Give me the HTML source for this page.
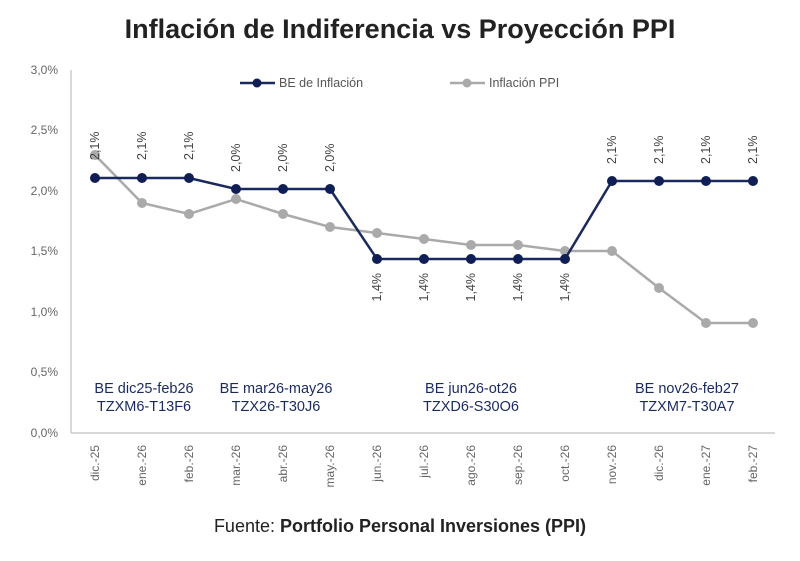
<!DOCTYPE html><html><head><style>body{margin:0;background:#fff}</style></head><body>
<svg width="800" height="556" xmlns="http://www.w3.org/2000/svg" font-family="Liberation Sans, sans-serif">
<text x="400" y="38" text-anchor="middle" font-size="27" font-weight="bold" fill="#222">Inflación de Indiferencia vs Proyección PPI</text>
<g fill="#666" font-size="12" text-anchor="end">
<text x="58" y="74">3,0%</text><text x="58" y="134">2,5%</text><text x="58" y="195">2,0%</text><text x="58" y="255">1,5%</text><text x="58" y="316">1,0%</text><text x="58" y="376">0,5%</text><text x="58" y="437">0,0%</text>
</g>
<line x1="71" y1="70" x2="71" y2="433" stroke="#ccc" stroke-width="1.5"/>
<line x1="71" y1="433" x2="775" y2="433" stroke="#ccc" stroke-width="1.5"/>
<g stroke="#aaa" stroke-width="2.5" fill="none"><polyline points="95,155 142,203 189,214 236,199 283,214 330,227 377,233 424,239 471,245 518,245 565,251 612,251 659,288 706,323 753,323"/></g>
<g fill="#aaa"><circle cx="95" cy="155" r="5"/><circle cx="142" cy="203" r="5"/><circle cx="189" cy="214" r="5"/><circle cx="236" cy="199" r="5"/><circle cx="283" cy="214" r="5"/><circle cx="330" cy="227" r="5"/><circle cx="377" cy="233" r="5"/><circle cx="424" cy="239" r="5"/><circle cx="471" cy="245" r="5"/><circle cx="518" cy="245" r="5"/><circle cx="565" cy="251" r="5"/><circle cx="612" cy="251" r="5"/><circle cx="659" cy="288" r="5"/><circle cx="706" cy="323" r="5"/><circle cx="753" cy="323" r="5"/></g>
<polyline points="95,178 142,178 189,178 236,189 283,189 330,189 377,259 424,259 471,259 518,259 565,259 612,181 659,181 706,181 753,181" stroke="#1a2a5e" stroke-width="2.5" fill="none"/>
<g fill="#0f1f55"><circle cx="95" cy="178" r="5"/><circle cx="142" cy="178" r="5"/><circle cx="189" cy="178" r="5"/><circle cx="236" cy="189" r="5"/><circle cx="283" cy="189" r="5"/><circle cx="330" cy="189" r="5"/><circle cx="377" cy="259" r="5"/><circle cx="424" cy="259" r="5"/><circle cx="471" cy="259" r="5"/><circle cx="518" cy="259" r="5"/><circle cx="565" cy="259" r="5"/><circle cx="612" cy="181" r="5"/><circle cx="659" cy="181" r="5"/><circle cx="706" cy="181" r="5"/><circle cx="753" cy="181" r="5"/></g>
<g fill="#444" font-size="12.5">
<text transform="translate(99,160) rotate(-90)">2,1%</text><text transform="translate(146,160) rotate(-90)">2,1%</text><text transform="translate(193,160) rotate(-90)">2,1%</text>
<text transform="translate(240,172) rotate(-90)">2,0%</text><text transform="translate(287,172) rotate(-90)">2,0%</text><text transform="translate(334,172) rotate(-90)">2,0%</text>
<g text-anchor="end"><text transform="translate(381,273) rotate(-90)">1,4%</text><text transform="translate(428,273) rotate(-90)">1,4%</text><text transform="translate(475,273) rotate(-90)">1,4%</text><text transform="translate(522,273) rotate(-90)">1,4%</text><text transform="translate(569,273) rotate(-90)">1,4%</text></g>
<text transform="translate(616,164) rotate(-90)">2,1%</text><text transform="translate(663,164) rotate(-90)">2,1%</text><text transform="translate(710,164) rotate(-90)">2,1%</text><text transform="translate(757,164) rotate(-90)">2,1%</text>
</g>
<g font-size="12.5" fill="#555">
<line x1="240" y1="83" x2="275" y2="83" stroke="#1a2a5e" stroke-width="2.5"/><circle cx="257" cy="83" r="4.5" fill="#0f1f55"/><text x="279" y="87">BE de Inflación</text>
<line x1="450" y1="83" x2="485" y2="83" stroke="#aaa" stroke-width="2.5"/><circle cx="467" cy="83" r="4.5" fill="#aaa"/><text x="489" y="87">Inflación PPI</text>
</g>
<g font-size="14.5" fill="#1a2a5e" text-anchor="middle">
<text x="144" y="393">BE dic25-feb26</text><text x="144" y="411">TZXM6-T13F6</text>
<text x="276" y="393">BE mar26-may26</text><text x="276" y="411">TZX26-T30J6</text>
<text x="471" y="393">BE jun26-ot26</text><text x="471" y="411">TZXD6-S30O6</text>
<text x="687" y="393">BE nov26-feb27</text><text x="687" y="411">TZXM7-T30A7</text>
</g>
<g font-size="12" fill="#666" text-anchor="end">
<text transform="translate(99,445) rotate(-90)">dic.-25</text><text transform="translate(146,445) rotate(-90)">ene.-26</text><text transform="translate(193,445) rotate(-90)">feb.-26</text><text transform="translate(240,445) rotate(-90)">mar.-26</text><text transform="translate(287,445) rotate(-90)">abr.-26</text><text transform="translate(334,445) rotate(-90)">may.-26</text><text transform="translate(381,445) rotate(-90)">jun.-26</text><text transform="translate(428,445) rotate(-90)">jul.-26</text><text transform="translate(475,445) rotate(-90)">ago.-26</text><text transform="translate(522,445) rotate(-90)">sep.-26</text><text transform="translate(569,445) rotate(-90)">oct.-26</text><text transform="translate(616,445) rotate(-90)">nov.-26</text><text transform="translate(663,445) rotate(-90)">dic.-26</text><text transform="translate(710,445) rotate(-90)">ene.-27</text><text transform="translate(757,445) rotate(-90)">feb.-27</text>
</g>
<text x="400" y="532" text-anchor="middle" font-size="18" fill="#222">Fuente: <tspan font-weight="bold">Portfolio Personal Inversiones (PPI)</tspan></text>
</svg></body></html>
